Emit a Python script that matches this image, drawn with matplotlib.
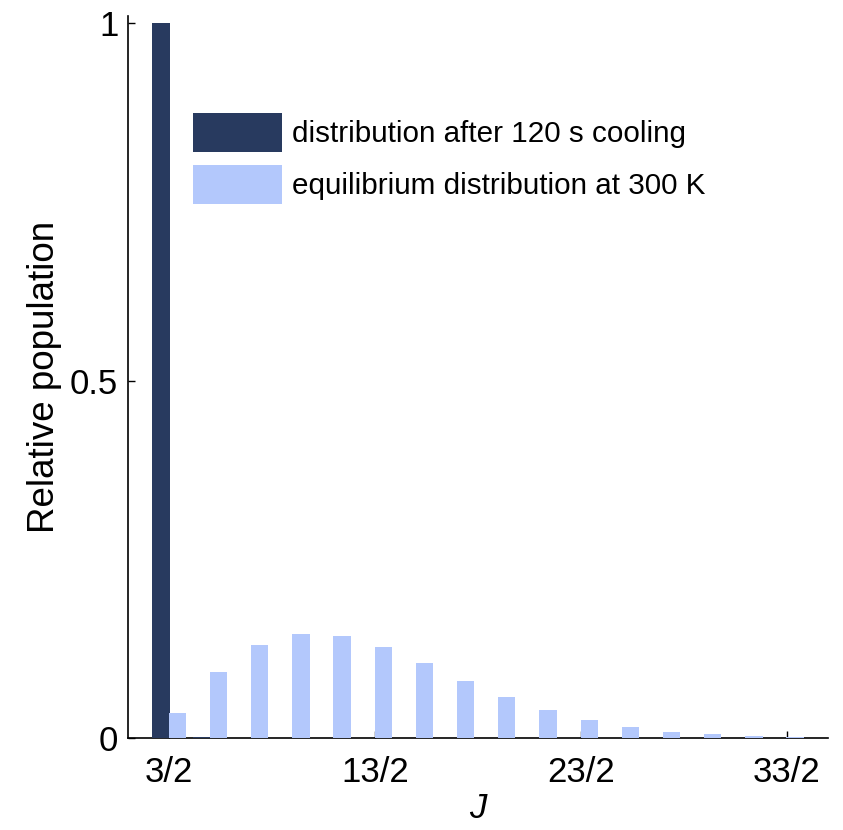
import numpy as np
from matplotlib import pyplot as plt

# J = 3/2 ... 35/2
jNum = [3, 5, 7, 9, 11, 13, 15, 17, 19, 21, 23, 25, 27, 29, 31, 33, 35]
cooled = [1.0, 0.002, 0.0, 0.0, 0.0, 0.0, 0.0, 0.0, 0.0, 0.0, 0.0, 0.0, 0.0, 0.0, 0.0, 0.0, 0.0]
thermal = [0.035, 0.093, 0.130, 0.145, 0.143, 0.127, 0.105, 0.080, 0.057, 0.039,
           0.025, 0.015, 0.0085, 0.005, 0.003, 0.002, 0.001]
tickJ = [3, 13, 23, 33]
tickLabels = ["3/2", "13/2", "23/2", "33/2"]

darkCol = "#283a5f"
lightCol = "#b3c8fc"

plt.rcParams["font.family"] = "Liberation Sans"

J = np.array(jNum) / 2

fig = plt.figure(figsize=(8.43, 8.30), dpi=100)
ax = fig.add_axes([128 / 843, 92 / 830, 700 / 843, 722 / 830])

ax.bar(J - 0.2, cooled, width=0.42, color=darkCol, zorder=3,
       label="distribution after 120 s cooling")
ax.bar(J + 0.2, thermal, width=0.42, color=lightCol, zorder=3,
       label="equilibrium distribution at 300 K")

ax.set_xlim(0.5, 17.5)
ax.set_ylim(0, 1.01)
ax.set_xticks(np.array(tickJ) / 2)
ax.set_xticklabels(tickLabels)
ax.set_yticks([0, 0.5, 1])
ax.set_yticklabels(["0", "0.5", "1"])
ax.tick_params(direction="in", length=5, width=1, labelsize=25, colors="black")
ax.tick_params(axis="x", pad=13)
ax.tick_params(axis="y", pad=7)

for s in ["top", "right"]:
    ax.spines[s].set_visible(False)
for s in ["left", "bottom"]:
    ax.spines[s].set_linewidth(1.2)
    ax.spines[s].set_color("black")

ax.set_ylabel("Relative population", fontsize=26.5, labelpad=6)
ax.set_xlabel("J", fontsize=25, style="italic", labelpad=2)

ax.legend(loc="upper left", bbox_to_anchor=(193 / 843, 1 - 113 / 830),
          bbox_transform=fig.transFigure, frameon=False, borderpad=0,
          borderaxespad=0, prop={"size": 21.3},
          handlelength=3.0, handleheight=1.65, handletextpad=0.33, labelspacing=0.43)

plt.savefig("out.png", dpi=100)
